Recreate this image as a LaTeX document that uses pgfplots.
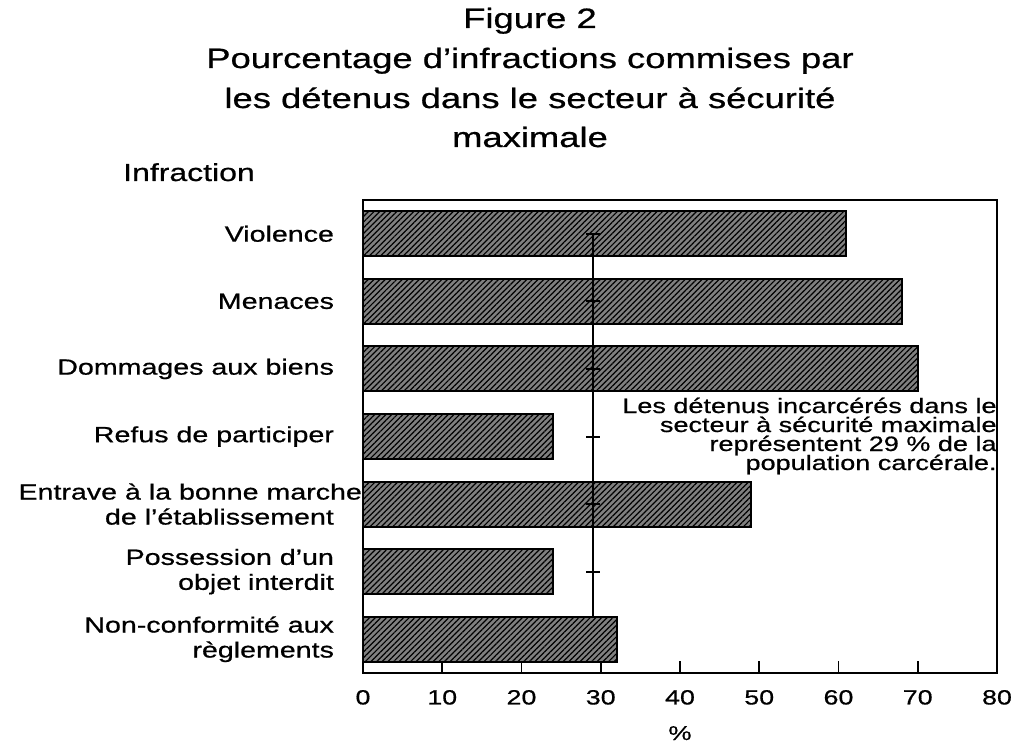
\documentclass[border=0pt]{standalone}
\usepackage{pgfplots}
\pgfplotsset{compat=1.18}
\usepackage{fontspec}
\setmainfont[FakeStretch=1.3,FakeBold=0.7]{Liberation Sans}
\usetikzlibrary{patterns.meta}
\begin{document}
\begin{tikzpicture}
\useasboundingbox (-181.5pt,-35.5pt) rectangle (328.5pt,336.5pt);
\begin{axis}[
  scale only axis, width=317pt, height=236.5pt,
  xmin=0, xmax=80, xtick={0,10,...,80},
  ymin=-0.5, ymax=6.5, ytick={0,...,6},
  yticklabels={{Non-conformité aux\\règlements},{Possession d'un\\objet interdit},{Entrave à la bonne marche\hspace*{-14pt}\\de l'établissement},{Refus de participer},{Dommages aux biens},{Menaces},{Violence}},
  axis line style={line width=1pt},
  tick align=inside, xtick pos=bottom, major tick length=6pt,
  xtick style={line width=0.8pt, black},
  ytick style={draw=none},
  /pgf/number format/assume math mode=true,
  xticklabel style={font=\fontsize{10.3}{12}\selectfont, yshift=-5pt},
  yticklabel style={font=\fontsize{11}{12.5}\selectfont, align=right, xshift=-11pt},
]
\addplot[xbar, bar width=0.665, draw=black, line width=1pt, fill=black!50,
  postaction={pattern={Lines[angle=45,distance=2pt,line width=0.6pt]}, pattern color=black}]
  coordinates {(61,6) (68,5) (70,4) (24,3) (49,2) (24,1) (32,0)};
\addplot[black, line width=0.9pt, mark=none] coordinates {(29,6) (29,0.335)};
\addplot[black, only marks, mark=-, mark size=3.5pt, mark options={line width=1pt}]
  coordinates {(29,6) (29,5) (29,4) (29,3) (29,2) (29,1)};
\end{axis}
\begin{scope}[every node/.style={inner sep=0pt}]
\node[anchor=base, font=\fontsize{14}{16}\selectfont] at (83.5pt,322.5pt) {Figure 2};
\node[anchor=base, font=\fontsize{14}{16}\selectfont] at (83.5pt,302.5pt) {Pourcentage d'infractions commises par};
\node[anchor=base, font=\fontsize{14}{16}\selectfont] at (83.5pt,282.5pt) {les détenus dans le secteur à sécurité};
\node[anchor=base, font=\fontsize{14}{16}\selectfont] at (83.5pt,263pt) {maximale};
\node[anchor=base, font=\fontsize{12.3}{14}\selectfont] at (-87pt,246pt) {Infraction};
\node[anchor=base east, font=\fontsize{10.4}{12}\selectfont] at (317pt,130pt) {Les détenus incarcérés dans le};
\node[anchor=base east, font=\fontsize{10.4}{12}\selectfont] at (317pt,120.5pt) {secteur à sécurité maximale};
\node[anchor=base east, font=\fontsize{10.4}{12}\selectfont] at (317pt,111pt) {représentent 29 \% de la};
\node[anchor=base east, font=\fontsize{10.4}{12}\selectfont] at (317pt,101.5pt) {population carcérale.};
\node[anchor=base, font=\fontsize{10}{12}\selectfont] at (158.5pt,-33.5pt) {\%};
\end{scope}
\end{tikzpicture}
\end{document}
